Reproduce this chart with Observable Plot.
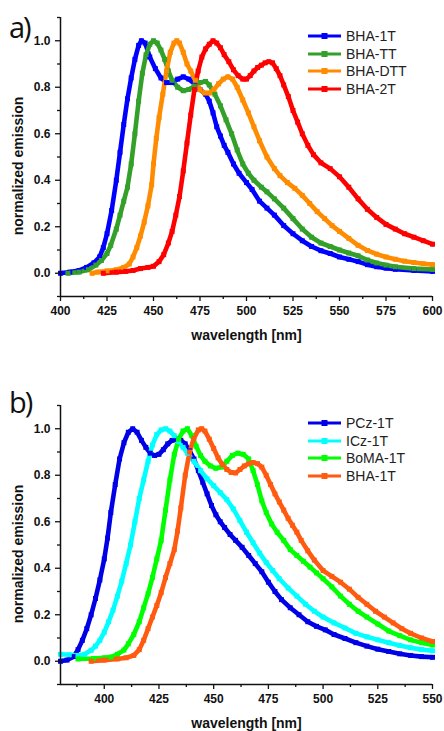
<!DOCTYPE html>
<html>
<head>
<meta charset="utf-8">
<script src="https://cdn.jsdelivr.net/npm/d3@7"></script>
<script src="https://cdn.jsdelivr.net/npm/@observablehq/plot@0.6"></script>
<style>
  html, body { margin: 0; padding: 0; background: #fff; }
  #wrap { position: relative; width: 444px; height: 731px; font-family: "Liberation Sans", Arial, sans-serif; }
  .panel { position: absolute; left: 0; width: 444px; }
  .tag { position: absolute; left: 9px; font-family: "Open Sans", sans-serif; font-size: 29px; line-height: 1; letter-spacing: -2px; color: #111; }
  .ylab { position: absolute; left: 18px; white-space: nowrap; font-size: 14px; font-weight: bold; color: #111; line-height: 1; transform: translate(-50%, -50%) rotate(-90deg); }
  .legend { position: absolute; left: 308px; font-size: 14px; color: #222; }
  .legend .row { display: flex; align-items: center; height: 17.8px; }
  .legend svg { display: block; margin-right: 5px; }
</style>
</head>
<body>
<div id="wrap"></div>
<script>
// ---------- Panel a) data ----------
const namesA = ["BHA-1T", "BHA-TT", "BHA-DTT", "BHA-2T"];
const colorsA = ["#0000ff", "#33a02a", "#ff8c00", "#ff0000"];

const wlA_1T = [400,405,410,414,418,421,423,425,427.5,430,432,434,436,438,440,442,443.5,445.5,448,451,454,457,460,463,466,469,472,475,478,480,482,484,486,488,490,493,496,500,503,507,511,515,520,525,530,535,540,545,550,555,560,565,570,575,580,590,600];
const emA_1T = [0.0,0.005,0.012,0.025,0.045,0.07,0.11,0.17,0.27,0.40,0.52,0.64,0.75,0.84,0.92,0.98,1.0,0.99,0.93,0.88,0.84,0.82,0.82,0.835,0.845,0.835,0.815,0.79,0.77,0.74,0.69,0.63,0.59,0.55,0.52,0.47,0.43,0.39,0.36,0.31,0.28,0.25,0.205,0.17,0.14,0.115,0.097,0.085,0.07,0.06,0.05,0.037,0.028,0.022,0.017,0.012,0.008];

const wlA_TT = [404,410,415,419,422,425,427,430,432,434,436,438,440,442,444,446,448,450,452,454,456,458,460,463,466,469,472,475,478,480,483,486,489,492,495,498,501,504,508,511,515,520,525,530,535,540,545,550,555,560,565,570,575,580,590,600];
const emA_TT = [0.0,0.005,0.015,0.035,0.055,0.085,0.12,0.19,0.25,0.31,0.37,0.47,0.6,0.74,0.86,0.94,0.985,1.0,0.99,0.96,0.92,0.87,0.83,0.80,0.785,0.79,0.805,0.82,0.825,0.81,0.77,0.72,0.66,0.60,0.53,0.47,0.43,0.40,0.37,0.35,0.32,0.28,0.235,0.19,0.155,0.13,0.115,0.10,0.087,0.075,0.057,0.044,0.035,0.028,0.02,0.016];

const wlA_DTT = [417,420,425,430,434,437,439,441,443,445,447,449,450,451.5,453,455,457,459,461,462.5,464,466,468,470,472.5,475,477.5,480,482.5,485,487.5,490,492.5,495,498,501,504,507,511,515,518,522,526,530,534,538,542,546,550,555,560,565,570,575,580,585,590,595,600];
const emA_DTT = [0.0,0.005,0.01,0.015,0.025,0.04,0.07,0.11,0.16,0.22,0.29,0.38,0.47,0.58,0.67,0.77,0.87,0.95,0.99,1.0,0.99,0.95,0.90,0.87,0.83,0.79,0.775,0.775,0.79,0.815,0.835,0.845,0.835,0.80,0.745,0.69,0.63,0.57,0.50,0.45,0.42,0.39,0.365,0.335,0.30,0.265,0.235,0.205,0.18,0.15,0.12,0.098,0.082,0.07,0.06,0.052,0.046,0.041,0.037];

const wlA_2T = [423,430,435,439,443,447,450,453,455.5,458,460,462,464,466,468,470,472,474,476,478,480,482,484,486,488,490.5,493,495.5,498,500,502,504,506,508,510,512,514,516,518,520,522.5,525,527.5,530,533,536,540,545,550,555,560,565,570,575,580,585,590,595,600];
const emA_2T = [0.0,0.005,0.008,0.012,0.02,0.025,0.03,0.05,0.08,0.13,0.18,0.25,0.33,0.44,0.56,0.68,0.79,0.87,0.93,0.965,0.985,1.0,0.99,0.97,0.94,0.91,0.875,0.85,0.835,0.835,0.85,0.87,0.885,0.895,0.905,0.91,0.905,0.88,0.85,0.81,0.76,0.70,0.65,0.60,0.55,0.51,0.475,0.45,0.415,0.37,0.32,0.275,0.24,0.21,0.19,0.17,0.155,0.14,0.125];

// ---------- Panel b) data ----------
const namesB = ["PCz-1T", "ICz-1T", "BoMA-1T", "BHA-1T"];
const colorsB = ["#0000e6", "#00ffff", "#00ff00", "#ff5a0f"];

const wlB_PCz = [380,383,386,388,390,392,394,396,398,400,401.5,403,405,407,409,411,413,415,417,419,421,423,425,427,429,431,433,435,437,439,441,443,445,447,449,451,453,455,457.5,460,463,466,469,472,475,478,481,485,489,493,497,501,505,510,515,520,525,530,535,540,545,550];
const emB_PCz = [0.0,0.005,0.02,0.05,0.09,0.14,0.2,0.27,0.35,0.44,0.53,0.64,0.76,0.87,0.94,0.985,1.0,0.985,0.95,0.92,0.895,0.885,0.89,0.91,0.935,0.95,0.955,0.95,0.935,0.905,0.87,0.82,0.77,0.72,0.67,0.63,0.6,0.575,0.545,0.52,0.49,0.455,0.42,0.385,0.34,0.30,0.265,0.23,0.2,0.17,0.15,0.135,0.115,0.098,0.08,0.065,0.052,0.042,0.032,0.025,0.02,0.017];

const wlB_ICz = [380,384,388,391,394,396,398,400,402,404,406,408,410,412,414,416,418,420,422,424,426,428,430,432,434,436,438,441,444,447,450,453,456,459,462,465,468,471,474,477,480,484,488,492,496,500,505,510,515,520,525,530,535,540,545,550];
const emB_ICz = [0.03,0.028,0.025,0.03,0.047,0.065,0.09,0.125,0.17,0.22,0.28,0.345,0.42,0.5,0.6,0.7,0.78,0.86,0.93,0.975,0.995,1.0,0.99,0.97,0.945,0.92,0.895,0.86,0.82,0.785,0.755,0.725,0.695,0.655,0.605,0.555,0.51,0.465,0.425,0.39,0.355,0.315,0.28,0.245,0.215,0.19,0.165,0.143,0.12,0.105,0.092,0.08,0.068,0.058,0.05,0.045];

const wlB_BoMA = [388,395,400,403,406,409,411,413.5,416,418,420,422,424,426,428,430,432,434,436,438,440,442,444,446,448.5,451,453.5,456,458.5,461,463.5,466,468,470,472,474,476.5,479,482,485,488,491,494,497,500,504,508,512,516,520,525,530,535,540,545,550];
const emB_BoMA = [0.01,0.012,0.015,0.018,0.03,0.048,0.075,0.115,0.17,0.23,0.29,0.36,0.44,0.52,0.65,0.78,0.89,0.955,0.99,1.0,0.97,0.925,0.885,0.86,0.84,0.83,0.835,0.86,0.885,0.895,0.89,0.87,0.82,0.76,0.69,0.64,0.59,0.555,0.52,0.48,0.455,0.43,0.405,0.38,0.355,0.32,0.28,0.245,0.215,0.19,0.16,0.13,0.11,0.092,0.08,0.07];

const wlB_BHA = [394,400,406,410,413.5,416,418,420,422,424,426,428,430,432,433.5,435,437,439,441,443,444.5,446,448,450,452,454,456,458,460,462,464,466,468,470,472,474,476,478,480,482,484,486,488,490,493,496,500,504,508,512,516,520,524,528,532,536,540,545,550];
const emB_BHA = [0.0,0.005,0.01,0.015,0.025,0.05,0.09,0.14,0.19,0.24,0.295,0.36,0.42,0.48,0.56,0.66,0.80,0.9,0.96,0.995,1.0,0.99,0.955,0.915,0.875,0.845,0.825,0.812,0.81,0.825,0.84,0.85,0.855,0.85,0.835,0.8,0.76,0.72,0.685,0.65,0.615,0.585,0.555,0.52,0.475,0.435,0.39,0.365,0.34,0.31,0.275,0.245,0.215,0.19,0.165,0.14,0.12,0.1,0.085];

// ---------- axis ticks & labels ----------
const xMajorA = [400,425,450,475,500,525,550,575,600];
const xMinorA = [412.5,437.5,462.5,487.5,512.5,537.5,562.5,587.5];
const xMajorB = [400,425,450,475,500,525,550];
const xMinorB = [387.5,412.5,437.5,462.5,487.5,512.5,537.5];
const yMajor = [0.0,0.2,0.4,0.6,0.8,1.0];
const yMinor = [-0.1,0.1,0.3,0.5,0.7,0.9,1.1];
const xLabel = "wavelength [nm]";
const yLabel = "normalized emission";

function rowsOf(names, wls, ems) {
  const rows = [];
  names.forEach((n, i) => wls[i].forEach((w, j) => rows.push({series: n, wl: w, em: ems[i][j]})));
  return rows;
}

function makePanel({names, colors, wls, ems, xDomain, xMajor, xMinor, height, marginTop, marginBottom}) {
  const rows = rowsOf(names, wls, ems);
  return Plot.plot({
    width: 444,
    height,
    marginLeft: 60,
    marginRight: 12,
    marginTop,
    marginBottom,
    style: {fontFamily: "'Liberation Sans', Arial, sans-serif", fontSize: "12px", color: "#111", background: "white"},
    x: {domain: xDomain},
    y: {domain: [-0.1, 1.1]},
    color: {domain: names, range: colors},
    marks: [
      Plot.line(rows, {x: "wl", y: "em", z: "series", stroke: "series", strokeWidth: 4.6, strokeLinejoin: "round"}),
      Plot.dot(rows, {x: "wl", y: "em", fill: "series", symbol: "square", r: 2.8}),
      Plot.ruleX([xDomain[0]], {stroke: "#111", strokeWidth: 1.5}),
      Plot.ruleY([-0.1], {stroke: "#111", strokeWidth: 1.5}),
      Plot.axisX(xMajor, {tickSize: 5, tickPadding: 5, strokeWidth: 1.3, fontWeight: "bold", fontSize: 12, label: null}),
      Plot.axisX(xMinor, {tickSize: 3, strokeWidth: 1.3, tickFormat: () => "", label: null}),
      Plot.axisY(yMajor, {tickSize: 5, tickPadding: 5, strokeWidth: 1.3, fontWeight: "bold", fontSize: 12, tickFormat: d3.format(".1f"), label: null}),
      Plot.axisY(yMinor, {tickSize: 3, strokeWidth: 1.3, tickFormat: () => "", label: null}),
      Plot.text([xLabel], {frameAnchor: "bottom", lineAnchor: "middle", dy: 39, fontSize: 14, fontWeight: "bold"})
    ]
  });
}

function legend(names, colors, top) {
  const div = document.createElement("div");
  div.className = "legend";
  div.style.top = top + "px";
  names.forEach((n, i) => {
    const row = document.createElement("div");
    row.className = "row";
    row.innerHTML = `<svg width="33" height="10"><line x1="0" y1="5" x2="33" y2="5" stroke="${colors[i]}" stroke-width="3"/><rect x="13.5" y="2" width="6" height="6" fill="${colors[i]}"/></svg><span>${n}</span>`;
    div.appendChild(row);
  });
  return div;
}

function addTexts(panel, tag, tagTop, ylabCenter) {
  const t = document.createElement("div"); t.className = "tag"; t.style.top = tagTop + "px"; t.textContent = tag;
  panel.appendChild(t);
  const yl = document.createElement("div"); yl.className = "ylab"; yl.style.top = ylabCenter + "px"; yl.textContent = yLabel;
  panel.appendChild(yl);
}

const wrap = document.getElementById("wrap");

const pa = document.createElement("div");
pa.className = "panel"; pa.style.top = "0px"; pa.style.height = "360px";
pa.appendChild(makePanel({
  names: namesA, colors: colorsA,
  wls: [wlA_1T, wlA_TT, wlA_DTT, wlA_2T], ems: [emA_1T, emA_TT, emA_DTT, emA_2T],
  xDomain: [400, 600], xMajor: xMajorA, xMinor: xMinorA,
  height: 360, marginTop: 17, marginBottom: 64
}));
addTexts(pa, "a)", 12, 166);
pa.appendChild(legend(namesA, colorsA, 27));
wrap.appendChild(pa);

const pb = document.createElement("div");
pb.className = "panel"; pb.style.top = "360px"; pb.style.height = "371px";
pb.appendChild(makePanel({
  names: namesB, colors: colorsB,
  wls: [wlB_PCz, wlB_ICz, wlB_BoMA, wlB_BHA], ems: [emB_PCz, emB_ICz, emB_BoMA, emB_BHA],
  xDomain: [380, 550], xMajor: xMajorB, xMinor: xMinorB,
  height: 371, marginTop: 45, marginBottom: 47
}));
addTexts(pb, "b)", 27, 194);
pb.appendChild(legend(namesB, colorsB, 54));
wrap.appendChild(pb);
</script>
</body>
</html>
